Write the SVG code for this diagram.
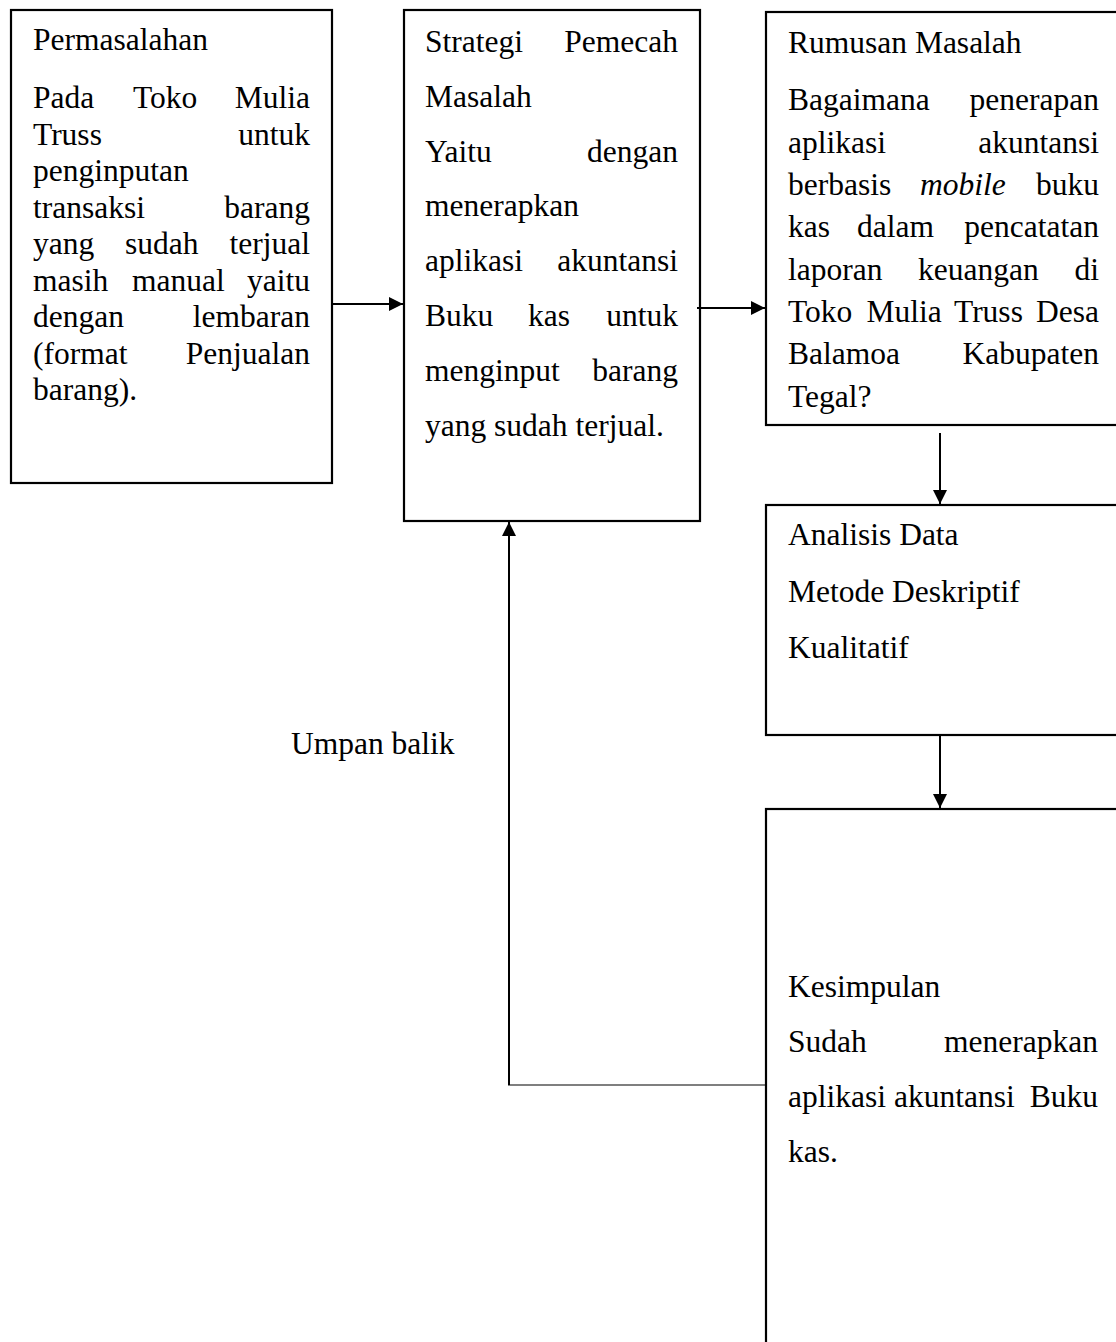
<svg xmlns="http://www.w3.org/2000/svg" width="1116" height="1342" viewBox="0 0 1116 1342">
<style>
  .box { fill: #ffffff; stroke: #000000; stroke-width: 2.2; }
  .t { font-family: "Liberation Serif", "Times New Roman", serif; font-size: 31.5px; fill: #000000; }
  .r { text-anchor: end; }
  .i { font-style: italic; }
  .con { stroke: #000000; stroke-width: 2; fill: none; }
  .thin { stroke: #000000; stroke-width: 1.2; fill: none; }
</style>
<defs>
  <marker id="ah" markerWidth="14" markerHeight="14" viewBox="0 0 14 14" refX="14" refY="7" orient="auto" markerUnits="userSpaceOnUse">
    <path d="M0,0 L14,7 L0,14 Z" fill="#000000"/>
  </marker>
</defs>
<rect width="1116" height="1342" fill="#ffffff"/>

<g id="permasalahan">
  <rect class="box" x="11" y="10" width="321" height="473"/>
  <text class="t" x="33" y="50">Permasalahan</text>
  <text class="t" x="33" y="108">Pada</text><text class="t" x="133" y="108">Toko</text><text class="t r" x="310" y="108">Mulia</text>
  <text class="t" x="33" y="144.5">Truss</text><text class="t r" x="310" y="144.5">untuk</text>
  <text class="t" x="33" y="181">penginputan</text>
  <text class="t" x="33" y="217.5">transaksi</text><text class="t r" x="310" y="217.5">barang</text>
  <text class="t" x="33" y="254">yang</text><text class="t" x="125" y="254">sudah</text><text class="t r" x="310" y="254">terjual</text>
  <text class="t" x="33" y="290.5">masih</text><text class="t" x="132" y="290.5">manual</text><text class="t r" x="310" y="290.5">yaitu</text>
  <text class="t" x="33" y="327">dengan</text><text class="t r" x="310" y="327">lembaran</text>
  <text class="t" x="33" y="363.5">(format</text><text class="t r" x="310" y="363.5">Penjualan</text>
  <text class="t" x="33" y="400">barang).</text>
</g>

<g id="strategi">
  <rect class="box" x="404" y="10" width="296" height="511"/>
  <text class="t" x="425" y="52">Strategi</text><text class="t r" x="678" y="52">Pemecah</text>
  <text class="t" x="425" y="107">Masalah</text>
  <text class="t" x="425" y="162">Yaitu</text><text class="t r" x="678" y="162">dengan</text>
  <text class="t" x="425" y="216">menerapkan</text>
  <text class="t" x="425" y="271">aplikasi</text><text class="t r" x="678" y="271">akuntansi</text>
  <text class="t" x="425" y="326">Buku</text><text class="t" x="528" y="326">kas</text><text class="t r" x="678" y="326">untuk</text>
  <text class="t" x="425" y="381">menginput</text><text class="t r" x="678" y="381">barang</text>
  <text class="t" x="425" y="436">yang sudah terjual.</text>
</g>

<g id="rumusan">
  <rect class="box" x="766" y="12" width="360" height="413"/>
  <text class="t" x="788" y="53">Rumusan Masalah</text>
  <text class="t" x="788" y="110">Bagaimana</text><text class="t r" x="1099" y="110">penerapan</text>
  <text class="t" x="788" y="152.5">aplikasi</text><text class="t r" x="1099" y="152.5">akuntansi</text>
  <text class="t" x="788" y="195">berbasis</text><text class="t i" x="920" y="195">mobile</text><text class="t r" x="1099" y="195">buku</text>
  <text class="t" x="788" y="237">kas</text><text class="t" x="857" y="237">dalam</text><text class="t r" x="1099" y="237">pencatatan</text>
  <text class="t" x="788" y="279.5">laporan</text><text class="t" x="918" y="279.5">keuangan</text><text class="t r" x="1099" y="279.5">di</text>
  <text class="t" x="788" y="322">Toko</text><text class="t" x="866.5" y="322">Mulia</text><text class="t" x="954" y="322">Truss</text><text class="t r" x="1099" y="322">Desa</text>
  <text class="t" x="788" y="364">Balamoa</text><text class="t r" x="1099" y="364">Kabupaten</text>
  <text class="t" x="788" y="406.5">Tegal?</text>
</g>

<g id="analisis">
  <rect class="box" x="766" y="505" width="360" height="230"/>
  <text class="t" x="788" y="545">Analisis Data</text>
  <text class="t" x="788" y="602">Metode Deskriptif</text>
  <text class="t" x="788" y="658">Kualitatif</text>
</g>

<g id="kesimpulan">
  <rect class="box" x="766" y="809" width="360" height="560"/>
  <text class="t" x="788" y="997">Kesimpulan</text>
  <text class="t" x="788" y="1052">Sudah</text><text class="t r" x="1098" y="1052">menerapkan</text>
  <text class="t" x="788" y="1107">aplikasi</text><text class="t" x="894" y="1107">akuntansi</text><text class="t r" x="1098" y="1107">Buku</text>
  <text class="t" x="788" y="1162">kas.</text>
</g>

<g id="label-umpan-balik">
  <text class="t" x="291" y="754">Umpan balik</text>
</g>

<g id="connectors">
  <line class="con" x1="333" y1="304" x2="403" y2="304" marker-end="url(#ah)"/>
  <line class="con" x1="697" y1="308" x2="765" y2="308" marker-end="url(#ah)"/>
  <line class="con" x1="940" y1="433" x2="940" y2="504" marker-end="url(#ah)"/>
  <line class="con" x1="940" y1="736" x2="940" y2="808" marker-end="url(#ah)"/>
  <line class="thin" x1="508" y1="1085" x2="766" y2="1085"/>
  <line class="con" x1="509" y1="1085" x2="509" y2="522" marker-end="url(#ah)"/>
</g>
</svg>
